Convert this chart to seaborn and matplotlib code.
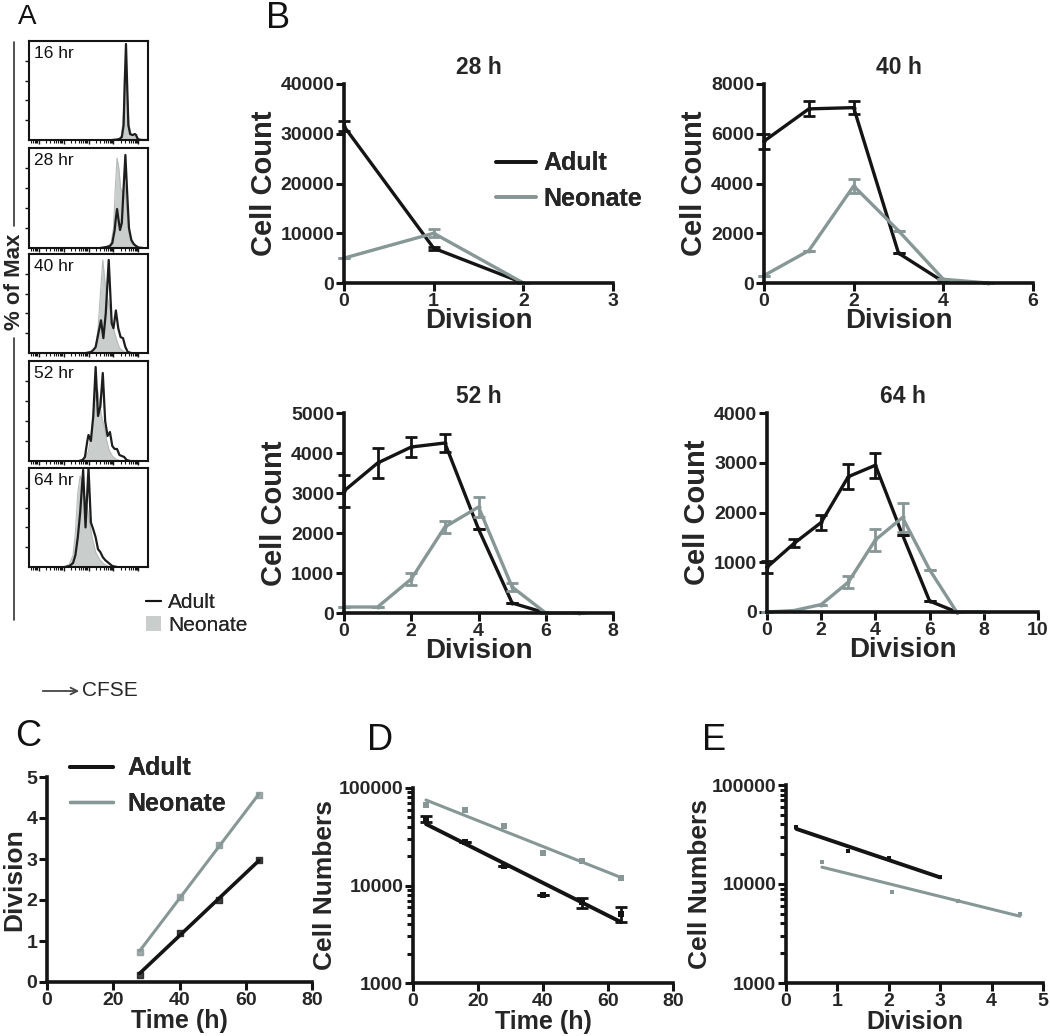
import numpy as np
import pandas as pd
import matplotlib
matplotlib.use("Agg")
import matplotlib.pyplot as plt
import seaborn as sns
from matplotlib import font_manager as fm
from matplotlib.lines import Line2D
from matplotlib.patches import Patch
import matplotlib.ticker as mticker

# ---------------- DATA ----------------
# Panel A: CFSE histograms (channel 0-100, % of max)
hist_labels = ["16 hr", "28 hr", "40 hr", "52 hr", "64 hr"]
h16_ax = [70, 74, 76, 78, 79.5, 80.5, 81.5, 82.5, 83.5, 85, 87, 89, 90, 91, 92, 95, 100]
h16_ay = [0, 0.5, 1, 3, 15, 60, 97, 55, 15, 6, 5, 6, 5, 2, 0.5, 0, 0]
h16_nx = [72, 76, 78, 79.5, 80.5, 81.5, 82.5, 84, 86, 88, 90, 92, 95]
h16_ny = [0, 1, 5, 30, 70, 72, 50, 15, 5, 4, 3, 1, 0]

h28_ax = [60, 65, 68, 70, 72, 73, 74, 75, 76.5, 78, 79.5, 81, 82.5, 84, 86, 88, 90, 92, 96]
h28_ay = [0, 1, 2, 5, 18, 30, 39, 30, 18, 25, 60, 93, 55, 20, 8, 4, 2, 0.5, 0]
h28_nx = [62, 66, 69, 71, 72.5, 74, 75.5, 77, 79, 80.5, 82, 84, 86, 89, 93]
h28_ny = [0, 1, 5, 20, 60, 90, 80, 60, 55, 65, 40, 15, 5, 2, 0]

h40_ax = [48, 52, 54, 56, 58, 60.5, 62.5, 64.5, 67, 69.5, 71, 73, 75, 77, 79, 81, 83, 86]
h40_ay = [0, 1, 3, 6, 18, 33, 15, 40, 94, 30, 25, 43, 25, 16, 15, 6, 1, 0]
h40_nx = [50, 53, 56, 58, 60, 62, 64, 66, 68, 70, 72, 74, 76, 79, 82]
h40_ny = [0, 1, 6, 25, 60, 94, 70, 55, 45, 30, 20, 12, 5, 2, 0]

h52_ax = [42, 45, 47, 49, 50, 52, 54, 56, 58, 60, 62, 64, 66, 68, 70, 72, 74, 76, 78, 80, 82, 85]
h52_ay = [0, 1, 4, 20, 26, 20, 45, 94, 45, 55, 88, 40, 25, 29, 15, 12, 12, 6, 5, 4, 1, 0]
h52_nx = [44, 47, 50, 52, 54, 56, 57.5, 59, 61, 63, 65, 67, 70, 73, 77]
h52_ny = [0, 2, 10, 25, 45, 65, 72, 60, 45, 35, 22, 12, 5, 2, 0]

h64_ax = [30, 34, 37, 39, 41, 43, 45.5, 47.5, 50, 52, 54, 56, 58, 60, 62, 64, 66, 68, 70, 74]
h64_ay = [0, 1, 4, 12, 30, 55, 98, 40, 100, 45, 38, 30, 18, 15, 10, 7, 5, 3, 1, 0]
h64_nx = [30, 34, 37, 39, 41, 43, 45, 47, 49, 51, 53, 56, 59, 63, 68]
h64_ny = [0, 3, 12, 35, 75, 92, 85, 70, 60, 45, 30, 15, 8, 3, 0]

# Panel B: cell count per division
b28_div_a = [0, 1, 2]
b28_adult = [31500, 7000, 0]
b28_adult_err = [1000, 300, 0]
b28_div_n = [0, 1, 2]
b28_neo = [5000, 10000, 0]
b28_neo_err = [0, 800, 0]

b40_div_a = [0, 1, 2, 3, 4]
b40_adult = [5700, 7000, 7050, 1200, 50]
b40_adult_err = [300, 300, 250, 0, 0]
b40_div_n = [0, 1, 2, 3, 4, 5]
b40_neo = [300, 1300, 3900, 2100, 150, 0]
b40_neo_err = [0, 0, 300, 0, 0, 0]

b52_div_a = [0, 1, 2, 3, 4, 5, 6]
b52_adult = [3050, 3750, 4150, 4250, 2100, 250, 0]
b52_adult_err = [400, 370, 250, 220, 0, 0, 0]
b52_div_n = [0, 1, 2, 3, 4, 5, 6, 7]
b52_neo = [150, 150, 850, 2150, 2650, 650, 0, 0]
b52_neo_err = [0, 0, 150, 150, 250, 100, 0, 0]

b64_div_a = [0, 1, 2, 3, 4, 5, 6, 7]
b64_adult = [900, 1380, 1800, 2720, 2950, 1550, 220, 0]
b64_adult_err = [120, 80, 150, 250, 250, 0, 0, 0]
b64_div_n = [0, 1, 2, 3, 4, 5, 6, 7, 8]
b64_neo = [0, 30, 150, 600, 1450, 1900, 850, 0, 0]
b64_neo_err = [0, 0, 0, 120, 220, 300, 0, 0, 0]

# Panel C: mean division vs time
c_time = [28, 40, 52, 64]
c_adult = [0.18, 1.2, 2.0, 2.97]
c_neo = [0.72, 2.08, 3.35, 4.55]

# Panel D: cell numbers vs time
d_time = [4, 16, 28, 40, 52, 64]
d_adult = [48000, 28000, 16000, 7900, 6700, 5100]
d_adult_err = [3500, 0, 0, 0, 800, 900]
d_neo = [67000, 59000, 41000, 21500, 18000, 12000]

# Panel E: cell numbers vs division
e_div_adult = [0.2, 1.2, 2.0, 3.0]
e_adult = [38000, 21500, 18500, 11700]
e_div_neo = [0.7, 2.07, 3.35, 4.55]
e_neo = [16500, 8300, 6800, 5000]

# ---------------- STYLE ----------------
sns.set_theme(style="white")
names = {f.name for f in fm.fontManager.ttflist}
NARROW = "Liberation Sans Narrow" if "Liberation Sans Narrow" in names else "Liberation Sans"
plt.rcParams["font.family"] = ["Liberation Sans", "DejaVu Sans"]
plt.rcParams["axes.edgecolor"] = "black"

BLACK = "#141414"
GRAY = "#869795"
FILL = "#c9cdcc"

W, H = 1050, 1036
fig = plt.figure(figsize=(W / 100, H / 100), dpi=100)


def box(x0, y0, x1, y1):
    return [x0 / W, 1 - y1 / H, (x1 - x0) / W, (y1 - y0) / H]


def style_axes(ax, tick_size=13):
    for s in ["top", "right"]:
        ax.spines[s].set_visible(False)
    for s in ["left", "bottom"]:
        ax.spines[s].set_linewidth(2.6)
        ax.spines[s].set_color(BLACK)
    ax.tick_params(axis="both", which="major", direction="out", length=6, width=2.2,
                   color=BLACK, pad=1, labelsize=tick_size, left=True, bottom=True)
    for lab in ax.get_xticklabels() + ax.get_yticklabels():
        lab.set_fontweight("bold")
        lab.set_family(NARROW)
    ax.grid(False)
    ax.set_facecolor("white")


# ---------------- PANEL A ----------------
hist_boxes = [(29, 41, 148, 140), (29, 148, 148, 248), (29, 254, 148, 353),
              (29, 361, 148, 461), (29, 468, 148, 567)]
hist_data = [(h16_ax, h16_ay, h16_nx, h16_ny), (h28_ax, h28_ay, h28_nx, h28_ny),
             (h40_ax, h40_ay, h40_nx, h40_ny), (h52_ax, h52_ay, h52_nx, h52_ny),
             (h64_ax, h64_ay, h64_nx, h64_ny)]
major_x = [8, 29, 50, 71, 92]
minor_x = [d + 21 * np.log10(k) for d in [-13, 8, 29, 50, 71] for k in range(2, 10)]
minor_x = [m for m in minor_x if 0 < m < 100]
for rect, (ax_x, ax_y, nx, ny), lbl in zip(hist_boxes, hist_data, hist_labels):
    ax = fig.add_axes(box(*rect))
    ax.fill_between(nx, ny, 0, color=FILL, lw=0)
    sns.lineplot(x=nx, y=ny, color="#b5bbba", lw=0.8, ax=ax, sort=False)
    sns.lineplot(x=ax_x, y=ax_y, color="#1e1e1e", lw=1.6, ax=ax, sort=False)
    ax.set_xlim(0, 100)
    ax.set_ylim(0, 100)
    for s in ax.spines.values():
        s.set_visible(True)
        s.set_linewidth(1.5)
        s.set_color(BLACK)
    ax.set_xticks(major_x)
    ax.set_xticks(minor_x, minor=True)
    ax.set_yticks([20, 40, 60, 80])
    ax.tick_params(axis="both", which="major", direction="out", length=3, width=1,
                   labelbottom=False, labelleft=False, bottom=True, left=True, color=BLACK)
    ax.tick_params(axis="x", which="minor", direction="out", length=1.8, width=0.8,
                   bottom=True, color=BLACK)
    ax.set_xlabel("")
    ax.set_ylabel("")
    ax.grid(False)
    ax.text(0.04, 0.95, lbl, transform=ax.transAxes, ha="left", va="top", fontsize=12.5,
            color="#111111")

# % of Max label and bracket line
fig.add_artist(Line2D([14 / W, 14 / W], [1 - 42 / H, 1 - 226 / H], color="#333333", lw=1.2))
fig.add_artist(Line2D([14 / W, 14 / W], [1 - 338 / H, 1 - 620 / H], color="#333333", lw=1.2))
fig.text(14 / W, 1 - 282 / H, "% of Max", rotation=90, ha="center", va="center",
         fontsize=16, fontweight="bold")

legA = fig.legend(handles=[Line2D([], [], color=BLACK, lw=1.5), Patch(facecolor=FILL, edgecolor="none")],
                  labels=["Adult", "Neonate"], loc="center left",
                  bbox_to_anchor=(146 / W, 1 - 614 / H), frameon=False, fontsize=15,
                  handlelength=0.7, handleheight=0.7, handletextpad=0.35, labelspacing=0.15,
                  borderpad=0, borderaxespad=0)
fig.add_artist(legA)

fig.add_artist(matplotlib.patches.FancyArrowPatch((40 / W, 1 - 691 / H), (82 / W, 1 - 691 / H),
                                                  transform=fig.transFigure, arrowstyle="->",
                                                  mutation_scale=12, color="#444444", lw=1.3))
fig.text(82 / W, 1 - 691 / H, "CFSE", ha="left", va="center", fontsize=15)

# ---------------- PANEL B ----------------
b_specs = [
    ((344, 84, 613, 283), b28_div_a, b28_adult, b28_adult_err, b28_div_n, b28_neo, b28_neo_err,
     3, 1, 40000, 10000, "28 h"),
    ((764, 84, 1033, 283), b40_div_a, b40_adult, b40_adult_err, b40_div_n, b40_neo, b40_neo_err,
     6, 2, 8000, 2000, "40 h"),
    ((344, 413, 613, 613), b52_div_a, b52_adult, b52_adult_err, b52_div_n, b52_neo, b52_neo_err,
     8, 2, 5000, 1000, "52 h"),
    ((767, 413, 1038, 612), b64_div_a, b64_adult, b64_adult_err, b64_div_n, b64_neo, b64_neo_err,
     10, 2, 4000, 1000, "64 h"),
]
b_axes = []
for rect, xa, ya, ea, xn, yn, en, xmax, xst, ymax, yst, title in b_specs:
    ax = fig.add_axes(box(*rect))
    sns.lineplot(x=xa, y=ya, color=BLACK, lw=2.4, ax=ax, marker="o", markersize=3,
                 markeredgewidth=0, label="Adult", legend=False)
    ax.errorbar(xa, ya, yerr=ea, fmt="none", ecolor=BLACK, elinewidth=2, capsize=4, capthick=2)
    sns.lineplot(x=xn, y=yn, color=GRAY, lw=2.4, ax=ax, marker="o", markersize=3,
                 markeredgewidth=0, label="Neonate", legend=False)
    ax.errorbar(xn, yn, yerr=en, fmt="none", ecolor=GRAY, elinewidth=2, capsize=4, capthick=2)
    ax.set_xlim(0, xmax)
    ax.set_ylim(0, ymax)
    ax.set_xticks(np.arange(0, xmax + 1, xst))
    ax.set_yticks(np.arange(0, ymax + 1, yst))
    ax.set_xticklabels([str(int(v)) for v in np.arange(0, xmax + 1, xst)])
    ax.set_yticklabels([str(int(v)) for v in np.arange(0, ymax + 1, yst)])
    for ln in ax.lines:
        ln.set_clip_on(False)
    style_axes(ax, 14)
    ax.set_xlabel("Division", fontsize=20, fontweight="bold", labelpad=-1)
    ax.set_ylabel("Cell Count", fontsize=21, fontweight="bold", labelpad=2)
    ax.set_title(title, fontsize=16.5, fontweight="bold", pad=7)
    b_axes.append(ax)

legB = fig.legend(handles=[Line2D([], [], color=BLACK, lw=2.6), Line2D([], [], color=GRAY, lw=2.6)],
                  labels=["Adult", "Neonate"], loc="center left",
                  bbox_to_anchor=(496 / W, 1 - 181 / H), frameon=False,
                  prop={"weight": "bold", "size": 18},
                  handlelength=1.6, handletextpad=0.3, labelspacing=0.45,
                  borderpad=0, borderaxespad=0)
fig.add_artist(legB)

# ---------------- PANEL C ----------------
axC = fig.add_axes(box(47, 777, 312, 982))
sns.regplot(x=c_time, y=c_adult, ax=axC, ci=None, truncate=True, color=BLACK, marker="s",
            scatter_kws={"s": 14}, line_kws={"lw": 2.6})
sns.regplot(x=c_time, y=c_neo, ax=axC, ci=None, truncate=True, color=GRAY, marker="s",
            scatter_kws={"s": 14}, line_kws={"lw": 2.2})
axC.set_xlim(0, 80)
axC.set_ylim(0, 5)
axC.set_xticks([0, 20, 40, 60, 80])
axC.set_xticklabels(["0", "20", "40", "60", "80"])
axC.set_yticks([0, 1, 2, 3, 4, 5])
axC.set_yticklabels(["0", "1", "2", "3", "4", "5"])
style_axes(axC, 14)
axC.set_xlabel("Time (h)", fontsize=18, fontweight="bold", labelpad=0)
axC.set_ylabel("Division", fontsize=19, fontweight="bold", labelpad=0)
legC = fig.legend(handles=[Line2D([], [], color=BLACK, lw=2.8), Line2D([], [], color=GRAY, lw=2.4)],
                  labels=["Adult", "Neonate"], loc="center left",
                  bbox_to_anchor=(70 / W, 1 - 786 / H), frameon=False,
                  prop={"weight": "bold", "size": 18},
                  handlelength=1.7, handletextpad=0.6, labelspacing=0.45,
                  borderpad=0, borderaxespad=0)
fig.add_artist(legC)


def log_axes(ax):
    ax.set_yscale("log")
    ax.set_ylim(1000, 100000)
    ax.yaxis.set_major_locator(mticker.FixedLocator([1000, 10000, 100000]))
    ax.yaxis.set_major_formatter(mticker.FuncFormatter(lambda v, p: f"{int(round(v))}"))
    ax.yaxis.set_minor_locator(mticker.LogLocator(base=10, subs=np.arange(2, 10)))
    ax.yaxis.set_minor_formatter(mticker.NullFormatter())
    style_axes(ax, 14)
    ax.tick_params(axis="y", which="minor", direction="out", length=4, width=2.2,
                   color=BLACK, left=True)


# ---------------- PANEL D ----------------
axD = fig.add_axes(box(413, 788, 673, 983))
for t, yv, col, lw in [(d_time, d_neo, GRAY, 2.2), (d_time, d_adult, BLACK, 2.8)]:
    coef = np.polyfit(t, np.log10(yv), 1)
    tx = [min(t), max(t)]
    sns.lineplot(x=tx, y=10 ** np.polyval(coef, tx), color=col, lw=lw, ax=axD)
sns.scatterplot(x=d_time, y=d_neo, color=GRAY, marker="s", s=18, linewidth=0, ax=axD)
sns.scatterplot(x=d_time, y=d_adult, color=BLACK, marker="s", s=18, linewidth=0, ax=axD)
axD.errorbar(d_time, d_adult, yerr=d_adult_err, fmt="none", ecolor=BLACK, elinewidth=2,
             capsize=4, capthick=2)
axD.set_xlim(0, 80)
axD.set_xticks([0, 20, 40, 60, 80])
axD.set_xticklabels(["0", "20", "40", "60", "80"])
log_axes(axD)
axD.set_xlabel("Time (h)", fontsize=18, fontweight="bold", labelpad=0)
axD.set_ylabel("Cell Numbers", fontsize=19, fontweight="bold", labelpad=1)

# ---------------- PANEL E ----------------
axE = fig.add_axes(box(786, 785, 1043, 983))
for xv, yv, col, lw in [(e_div_neo, e_neo, GRAY, 2.2), (e_div_adult, e_adult, BLACK, 2.8)]:
    coef = np.polyfit(xv, np.log10(yv), 1)
    xx = [min(xv), max(xv)]
    sns.lineplot(x=xx, y=10 ** np.polyval(coef, xx), color=col, lw=lw, ax=axE)
sns.scatterplot(x=e_div_neo, y=e_neo, color=GRAY, marker="s", s=8, linewidth=0, ax=axE)
sns.scatterplot(x=e_div_adult, y=e_adult, color=BLACK, marker="s", s=12, linewidth=0, ax=axE)
axE.set_xlim(0, 5)
axE.set_xticks([0, 1, 2, 3, 4, 5])
axE.set_xticklabels(["0", "1", "2", "3", "4", "5"])
log_axes(axE)
axE.set_xlabel("Division", fontsize=18, fontweight="bold", labelpad=0)
axE.set_ylabel("Cell Numbers", fontsize=19, fontweight="bold", labelpad=0)

# ---------------- PANEL LETTERS ----------------
for letter, (px, py), fs in [("A", (27, 17), 20), ("B", (278, 19), 26), ("C", (28, 737), 26),
                             ("D", (380, 741), 26), ("E", (714, 741), 26)]:
    fig.text(px / W, 1 - py / H, letter, ha="center", va="center", fontsize=fs, color="#111111")

fig.savefig("out.png", dpi=100, facecolor="white")
